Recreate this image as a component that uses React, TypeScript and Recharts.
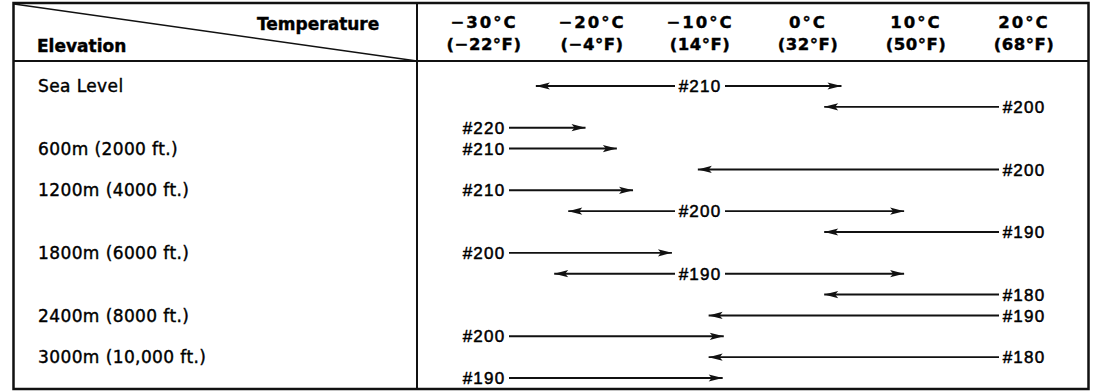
import React from 'react';
import { ScatterChart, Scatter, XAxis, YAxis } from 'recharts';

// temperature columns
const tempTicks = [-30, -20, -10, 0, 10, 20];
const celsiusLabels = ['−30°C', '−20°C', '−10°C', '0°C', '10°C', '20°C'];
const fahrenheitLabels = ['(−22°F)', '(−4°F)', '(14°F)', '(32°F)', '(50°F)', '(68°F)'];

// elevation rows (row index of each label)
const elevations = ['Sea Level', '600m (2000 ft.)', '1200m (4000 ft.)', '1800m (6000 ft.)', '2400m (8000 ft.)', '3000m (10,000 ft.)'];
const elevationRows = [0, 3, 5, 8, 11, 13];

// one arrow per row, top to bottom
const jets = ['#210', '#200', '#220', '#210', '#200', '#210', '#200', '#190', '#200', '#190', '#180', '#190', '#200', '#180', '#190'];
const fromTemps = [-25.2, 1.5, -30, -30, -10.2, -30, -22.2, 1.5, -30, -23.5, 1.5, -9.2, -30, -9.2, -30];
const toTemps = [3.1, 20, -20.6, -17.7, 20, -16.2, 8.9, 20, -12.6, 8.9, 20, 20, -7.8, 20, -7.9];
const labelTemps = [-10, 20, -30, -30, 20, -30, -10, 20, -30, -10, 20, 20, -30, 20, -30];

const INK = '#111';
const arrows = jets.map((jet, i) => ({
  jet,
  row: i,
  from: fromTemps[i],
  to: toTemps[i],
  labelAt: labelTemps[i],
}));

const ArrowHead = (props: any) => {
  const { cx, cy, payload } = props;
  if (!payload || !payload.head) return <g />;
  const d = payload.head === 'left' ? 1 : -1;
  return <path d={`M${cx},${cy} L${cx + d * 14},${cy - 3.6} L${cx + d * 11},${cy} L${cx + d * 14},${cy + 3.6} Z`} fill={INK} />;
};

const JetLabel = (props: any) => {
  const { cx, cy, payload } = props;
  return (
    <g>
      <rect x={cx - 25} y={cy - 9} width={50} height={18} fill="#fff" />
      <text x={cx} y={cy} dy="0.36em" textAnchor="middle" fontFamily="Liberation Sans, Arial, sans-serif" fontSize={17} letterSpacing={1.2} fill="#000" stroke="#000" strokeWidth={0.5}>
        {payload.jet}
      </text>
    </g>
  );
};

const TempTick = (props: any) => {
  const { x, payload } = props;
  const i = tempTicks.indexOf(payload.value);
  return (
    <g fontFamily="DejaVu Sans, sans-serif" fontWeight="bold" fontSize={16.5} fill="#000" stroke="#000" strokeWidth={0.4} textAnchor="middle">
      <text x={x} y={28} letterSpacing={2}>{celsiusLabels[i]}</text>
      <text x={x} y={50} letterSpacing={0.5}>{fahrenheitLabels[i]}</text>
    </g>
  );
};

const ElevationTick = (props: any) => {
  const { y, payload } = props;
  const i = elevationRows.indexOf(payload.value);
  return (
    <text x={38} y={y} dy="0.36em" fontFamily="DejaVu Sans, sans-serif" fontSize={17} letterSpacing={0.4} fill="#000" stroke="#000" strokeWidth={0.4}>
      {elevations[i]}
    </text>
  );
};

export default function App() {
  return (
    <div style={{ position: 'absolute', left: 0, top: 0, width: 1096, height: 392, background: '#fff' }}>
      <ScatterChart width={1096} height={392} margin={{ top: 26, right: 18, bottom: 14, left: 0 }}>
        <XAxis
          type="number"
          dataKey="t"
          orientation="top"
          domain={[-35, 25]}
          ticks={tempTicks}
          tick={<TempTick />}
          axisLine={false}
          tickLine={false}
          height={60}
          interval={0}
        />
        <YAxis
          type="number"
          dataKey="row"
          domain={[0, 14]}
          reversed
          ticks={elevationRows}
          tick={<ElevationTick />}
          axisLine={false}
          tickLine={false}
          width={430}
          interval={0}
        />
        {arrows.map((a) => (
          <Scatter
            key={`arrow-${a.row}`}
            data={[
              { t: a.from, row: a.row, head: a.labelAt !== a.from ? 'left' : null },
              { t: a.to, row: a.row, head: a.labelAt !== a.to ? 'right' : null },
            ]}
            line={{ stroke: INK, strokeWidth: 1.9 }}
            lineType="joint"
            shape={<ArrowHead />}
            isAnimationActive={false}
          />
        ))}
        <Scatter
          data={arrows.map((a) => ({ t: a.labelAt, row: a.row, jet: a.jet }))}
          shape={<JetLabel />}
          isAnimationActive={false}
        />
      </ScatterChart>
      <svg width={1096} height={392} style={{ position: 'absolute', left: 0, top: 0, pointerEvents: 'none' }}>
        <rect x={13.5} y={3} width={1075} height={386} fill="none" stroke={INK} strokeWidth={2.5} />
        <line x1={13} y1={61} x2={1089} y2={61} stroke={INK} strokeWidth={2} />
        <line x1={417} y1={3} x2={417} y2={389} stroke={INK} strokeWidth={2} />
        <line x1={14} y1={4} x2={417} y2={61} stroke={INK} strokeWidth={1.5} />
        <g fontFamily="DejaVu Sans, sans-serif" fontWeight="bold" fontSize={17} fill="#000" stroke="#000" strokeWidth={0.4}>
          <text x={257} y={30}>Temperature</text>
          <text x={37} y={52}>Elevation</text>
        </g>
      </svg>
    </div>
  );
}
